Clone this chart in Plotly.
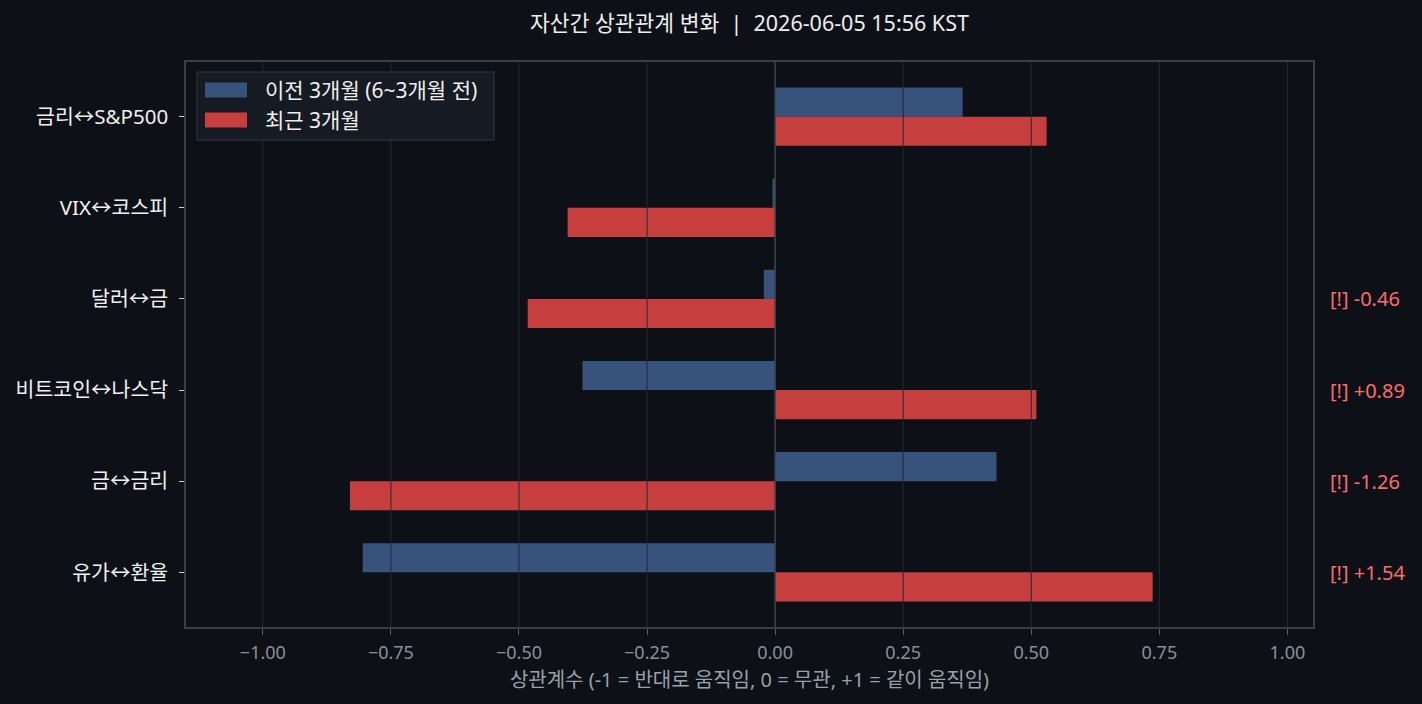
import plotly.graph_objects as go

categories = ["금리↔S&P500", "VIX↔코스피", "달러↔금", "비트코인↔나스닥", "금↔금리", "유가↔환율"]
prev_vals = [0.366, -0.005, -0.022, -0.376, 0.432, -0.805]
recent_vals = [0.530, -0.405, -0.483, 0.510, -0.830, 0.737]
series_names = ["이전 3개월 (6~3개월 전)", "최근 3개월"]
x_ticks = [-1.0, -0.75, -0.5, -0.25, 0.0, 0.25, 0.5, 0.75, 1.0]

BG = "#0d1017"
BLUE = "#37527b"
RED = "#c73e3f"
FONT = "Noto Sans, Noto Sans CJK KR, sans-serif"

# plot area in pixels
W, H = 1422, 704
L, R, T, B = 186, 1313, 62, 627
XR = [-1.15, 1.05]


def px(xp):
    return (xp - L) / (R - L)


def py(yp):
    return 1 - (yp - T) / (B - T)


ypos = list(range(len(categories)))

fig = go.Figure()
fig.add_trace(go.Bar(
    y=ypos, x=prev_vals, orientation="h", name=series_names[0], showlegend=False,
    marker=dict(color=BLUE, line=dict(width=0)), width=0.32, offset=-0.32,
))
fig.add_trace(go.Bar(
    y=ypos, x=recent_vals, orientation="h", name=series_names[1], showlegend=False,
    marker=dict(color=RED, line=dict(width=0)), width=0.32, offset=0.0,
))

shapes = []
for t in x_ticks:
    if t == 0:
        continue
    shapes.append(dict(type="line", xref="x", yref="paper", x0=t, x1=t, y0=0, y1=1,
                       line=dict(color="#252930", width=1), layer="above"))
shapes.append(dict(type="line", xref="x", yref="paper", x0=0, x1=0, y0=0, y1=1,
                   line=dict(color="#3d4149", width=1.6), layer="above"))

# manual legend (wide patches like the reference)
shapes.append(dict(type="rect", xref="paper", yref="paper",
                   x0=px(197), x1=px(494), y0=py(140), y1=py(72),
                   fillcolor="#161a22", line=dict(color="#353943", width=1), layer="above"))
annotations = []
for k, (nm, col) in enumerate(zip(series_names, [BLUE, RED])):
    yc = 90 + 30 * k
    shapes.append(dict(type="rect", xref="paper", yref="paper",
                       x0=px(205), x1=px(247), y0=py(yc + 7.5), y1=py(yc - 7.5),
                       fillcolor=col, line=dict(width=0), layer="above"))
    annotations.append(dict(x=px(263), y=py(yc), xref="paper", yref="paper", text=nm,
                            showarrow=False, xanchor="left", yanchor="middle",
                            font=dict(family=FONT, size=21, color="#eeeeee")))

for i, (p, r) in enumerate(zip(prev_vals, recent_vals)):
    d = r - p
    if abs(d) >= 0.45:
        annotations.append(dict(
            x=(1.08 - XR[0]) / (XR[1] - XR[0]), y=i, xref="paper", yref="y",
            text=f"[!] {d:+.2f}",
            showarrow=False, xanchor="left", yanchor="middle",
            font=dict(family=FONT, size=20, color="#ff6b6b"),
        ))

fig.update_layout(
    width=W, height=H,
    paper_bgcolor=BG, plot_bgcolor=BG,
    margin=dict(l=L, r=W - R, t=T, b=H - B),
    font=dict(family=FONT, color="#e6e6e6"),
    title=dict(text="자산간 상관관계 변화  |  2026-06-05 15:56 KST", x=(L + R) / 2 / W,
               xanchor="center", y=1 - 23 / H, yanchor="middle",
               font=dict(family=FONT, size=21.5, color="#eeeeee")),
    barmode="overlay",
    showlegend=False,
    shapes=shapes,
    annotations=annotations,
    xaxis=dict(range=XR, tickvals=x_ticks, tickformat=".2f",
               showgrid=False, zeroline=False,
               ticks="outside", ticklen=6, tickcolor="#5a5e66",
               tickfont=dict(family=FONT, size=18, color="#8b919a"),
               ticklabelstandoff=3,
               showline=True, linecolor="#3a3e46", linewidth=1.5, mirror=True,
               title=dict(text="상관계수 (-1 = 반대로 움직임, 0 = 무관, +1 = 같이 움직임)",
                          font=dict(family=FONT, size=20, color="#9ba0a8"), standoff=10)),
    yaxis=dict(range=[5.6, -0.6], tickvals=ypos, ticktext=categories,
               showgrid=False, zeroline=False,
               ticks="outside", ticklen=5, tickcolor="#cccccc",
               tickfont=dict(family=FONT, size=20.5, color="#f0f0f0"),
               ticklabelstandoff=7,
               showline=True, linecolor="#3a3e46", linewidth=1.5, mirror=True),
)

fig.write_html("out.html")
